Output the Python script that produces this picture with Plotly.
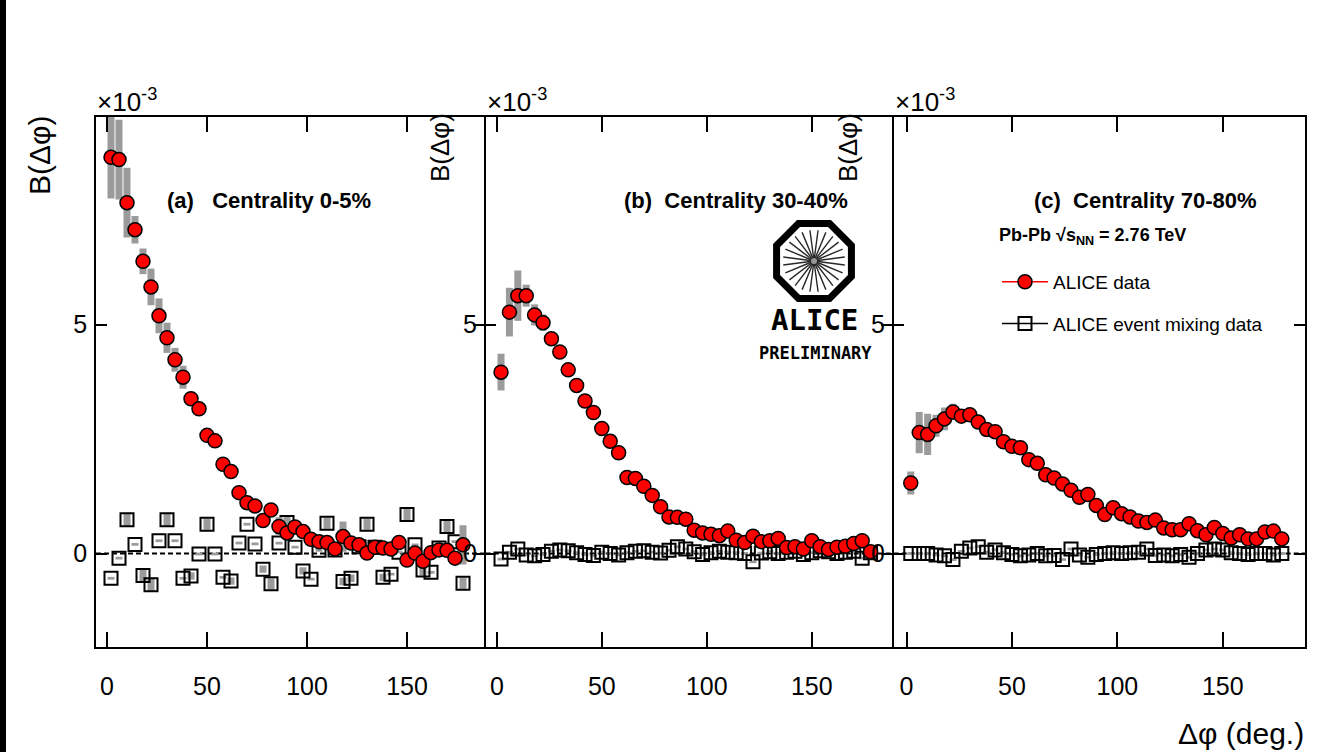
import math
import plotly.graph_objects as go

W, H = 1332, 752
FONT = "Liberation Sans, Arial, sans-serif"

# Δφ bin centres (deg.)
DPHI = [2, 6, 10, 14, 18, 22, 26, 30, 34, 38, 42, 46, 50, 54, 58, 62, 66, 70, 74, 78,
        82, 86, 90, 94, 98, 102, 106, 110, 114, 118, 122, 126, 130, 134, 138, 142, 146,
        150, 154, 158, 162, 166, 170, 174, 178]

# Balance function B(Δφ), units of 1e-3 — centrality 0-5%
data_a = [8.65, 8.60, 7.66, 7.07, 6.38, 5.82, 5.19, 4.71, 4.23, 3.85, 3.38, 3.16, 2.58,
          2.46, 1.95, 1.79, 1.33, 1.11, 1.04, 0.72, 0.95, 0.59, 0.45, 0.58, 0.48, 0.31,
          0.26, 0.24, 0.10, 0.37, 0.23, 0.19, 0.01, 0.14, 0.12, 0.10, 0.24, -0.14, 0.01,
          -0.17, 0.02, 0.08, 0.07, -0.10, 0.19]
syst_a = [0.90, 0.87, 0.76, 0.30, 0.28, 0.40, 0.38, 0.33, 0.26, 0.25, 0.15, 0.12, 0.12,
          0.10, 0.10, 0.10, 0.08, 0.08, 0.08, 0.08, 0.08, 0.20, 0.08, 0.08, 0.08, 0.08,
          0.08, 0.10, 0.10, 0.33, 0.10, 0.08, 0.08, 0.08, 0.08, 0.08, 0.08, 0.08, 0.08,
          0.10, 0.10, 0.08, 0.08, 0.10, 0.43]
mix_a = [-0.54, -0.10, 0.74, 0.20, -0.48, -0.68, 0.28, 0.74, 0.28, -0.54, -0.49, -0.01,
         0.64, -0.01, -0.52, -0.60, 0.23, 0.64, 0.21, -0.34, -0.66, 0.23, 0.68, 0.14,
         -0.38, -0.56, 0.07, 0.66, 0.08, -0.61, -0.54, 0.15, 0.64, 0.14, -0.52, -0.45,
         0.03, 0.85, 0.19, -0.36, -0.41, 0.12, 0.59, 0.26, -0.65]
mix_syst_a = [0.03, 0.03, 0.15, 0.03, 0.12, 0.15, 0.03, 0.15, 0.03, 0.03, 0.08, 0.03,
              0.12, 0.03, 0.03, 0.08, 0.03, 0.03, 0.03, 0.08, 0.12, 0.03, 0.12, 0.03,
              0.08, 0.03, 0.03, 0.12, 0.03, 0.08, 0.08, 0.03, 0.12, 0.03, 0.08, 0.03,
              0.03, 0.15, 0.03, 0.12, 0.03, 0.03, 0.12, 0.03, 0.12]

# Centrality 30-40%
data_b = [3.96, 5.27, 5.63, 5.63, 5.21, 5.04, 4.69, 4.40, 4.01, 3.67, 3.33, 3.08, 2.73,
          2.45, 2.20, 1.66, 1.64, 1.47, 1.27, 1.02, 0.80, 0.79, 0.75, 0.51, 0.45, 0.42,
          0.39, 0.49, 0.29, 0.24, 0.38, 0.26, 0.28, 0.33, 0.13, 0.15, 0.10, 0.28, 0.15,
          0.09, 0.14, 0.16, 0.22, 0.28, 0.04]
syst_b = [0.40, 0.53, 0.55, 0.24, 0.23, 0.18, 0.15, 0.12, 0.10, 0.08, 0.06, 0.06, 0.06,
          0.06, 0.06, 0.06, 0.06, 0.06, 0.06, 0.05, 0.05, 0.05, 0.05, 0.05, 0.05, 0.05,
          0.05, 0.05, 0.05, 0.05, 0.05, 0.05, 0.05, 0.05, 0.05, 0.05, 0.05, 0.05, 0.05,
          0.05, 0.05, 0.05, 0.05, 0.05, 0.05]
mix_b = [-0.12, 0.03, 0.10, -0.03, -0.05, -0.02, 0.05, 0.08, 0.06, 0.02, -0.02, -0.04,
         0.03, 0.00, -0.03, 0.02, 0.05, 0.06, 0.03, 0.01, 0.07, 0.15, 0.10, 0.04, -0.02,
         0.02, 0.05, 0.03, 0.02, 0.00, -0.18, 0.01, 0.04, 0.00, 0.03, 0.05, -0.02, 0.02,
         0.06, 0.04, 0.00, 0.03, 0.05, -0.10, 0.02]

# Centrality 70-80%
data_c = [1.54, 2.64, 2.60, 2.79, 2.94, 3.09, 3.00, 3.03, 2.87, 2.71, 2.66, 2.44, 2.34,
          2.31, 2.05, 1.97, 1.72, 1.65, 1.52, 1.38, 1.23, 1.29, 1.05, 0.85, 1.00, 0.87,
          0.80, 0.71, 0.68, 0.73, 0.56, 0.52, 0.52, 0.65, 0.50, 0.41, 0.57, 0.44, 0.34,
          0.41, 0.32, 0.32, 0.47, 0.49, 0.32]
syst_c = [0.25, 0.45, 0.45, 0.24, 0.25, 0.18, 0.15, 0.15, 0.08, 0.06, 0.05, 0.05, 0.05,
          0.05, 0.05, 0.05, 0.05, 0.05, 0.05, 0.05, 0.05, 0.05, 0.05, 0.05, 0.05, 0.05,
          0.05, 0.05, 0.05, 0.05, 0.05, 0.05, 0.05, 0.05, 0.05, 0.05, 0.05, 0.05, 0.05,
          0.05, 0.05, 0.05, 0.05, 0.05, 0.05]
mix_c = [0.00, 0.00, 0.00, -0.03, -0.05, -0.13, 0.05, 0.12, 0.15, 0.03, 0.08, 0.02,
         -0.02, -0.05, -0.03, 0.00, -0.05, -0.04, -0.13, 0.10, -0.03, -0.08, -0.02, 0.00,
         0.02, 0.00, 0.02, 0.03, 0.10, -0.04, -0.03, -0.05, -0.02, -0.08, 0.00, 0.08,
         0.10, 0.08, 0.02, 0.00, -0.02, 0.00, 0.00, -0.03, 0.00]
mix_syst_bc = [0.03] * len(DPHI)

PANEL_LABELS = ["(a)\u00a0\u00a0\u00a0Centrality 0-5%",
                "(b)\u00a0\u00a0Centrality 30-40%",
                "(c)\u00a0\u00a0Centrality 70-80%"]
X_TICKS = [0, 50, 100, 150]
Y_TICKS = [0, 5]

GRAY = "rgb(155,155,155)"
RED = "rgb(255,0,0)"
LW = 1.5


def px(x):
    return x / W


def py(y):
    return 1 - y / H


# neighbouring frames share one border line
panels = [
    dict(data=data_a, syst=syst_a, mix=mix_a, mix_syst=mix_syst_a,
         dom=(96, 484.2), xr=(-5.5, 188.6)),
    dict(data=data_b, syst=syst_b, mix=mix_b, mix_syst=mix_syst_bc,
         dom=(485.7, 892.2), xr=(-5.3, 188.3)),
    dict(data=data_c, syst=syst_c, mix=mix_c, mix_syst=mix_syst_bc,
         dom=(893.7, 1305), xr=(-6.1, 189.0)),
]

fig = go.Figure()
layout = dict(
    width=W, height=H, margin=dict(l=0, r=0, t=0, b=0),
    paper_bgcolor="white", plot_bgcolor="white",
    font=dict(family=FONT, color="black"),
    showlegend=True,
)
shapes, annotations = [], []
Y_RANGE = [-2.04, 9.53]
ydom = [py(647), py(117)]

for i, p in enumerate(panels):
    n = "" if i == 0 else str(i + 1)
    xa, ya = "x" + n, "y" + n
    # event-mixing points (open squares) with systematic boxes
    fig.add_trace(go.Scatter(
        x=DPHI, y=p["mix"], xaxis=xa, yaxis=ya, mode="markers", showlegend=False,
        marker=dict(symbol="square-open", size=13, color="black", line=dict(width=2)),
        error_y=dict(type="data", array=p["mix_syst"], color=GRAY, thickness=7, width=0),
        cliponaxis=True,
    ))
    # measured balance function (red circles) with systematic boxes
    fig.add_trace(go.Scatter(
        x=DPHI, y=p["data"], xaxis=xa, yaxis=ya, mode="markers", showlegend=False,
        marker=dict(symbol="circle", size=14, color=RED,
                    line=dict(color="black", width=1.5)),
        error_y=dict(type="data", array=p["syst"], color=GRAY, thickness=7, width=0),
        cliponaxis=True,
    ))
    axis_common = dict(showline=True, linewidth=LW, linecolor="black", mirror="ticks",
                       ticks="inside", tickcolor="black", tickwidth=2,
                       showgrid=False, zeroline=False)
    layout["xaxis" + n] = dict(
        domain=[px(p["dom"][0]), px(p["dom"][1])], range=list(p["xr"]),
        anchor=ya, tickvals=X_TICKS, ticklen=15, ticklabelstandoff=16,
        tickfont=dict(size=25, family=FONT), **axis_common)
    layout["yaxis" + n] = dict(
        domain=ydom, range=Y_RANGE, anchor=xa, tickvals=Y_TICKS, ticklen=11,
        ticklabelstandoff=2, tickfont=dict(size=25, family=FONT), **axis_common)
    # dashed zero reference
    shapes.append(dict(type="line", xref=xa + " domain", yref=ya, x0=0, x1=1, y0=0, y1=0,
                       line=dict(color="black", width=2, dash="5px,3px"), layer="below"))
    # ×10^-3 multiplier above the frame
    annotations.append(dict(x=px(p["dom"][0] - 1), y=py(119), xref="paper", yref="paper",
                            xanchor="left", yanchor="bottom", showarrow=False,
                            text="×10<sup>-3</sup>", font=dict(size=26, family=FONT)))

# y-axis titles
for (cx, cy, fs) in [(40, 156, 30), (440, 148, 26), (848, 148, 26)]:
    annotations.append(dict(x=px(cx), y=py(cy), xref="paper", yref="paper",
                            xanchor="center", yanchor="middle", showarrow=False,
                            textangle=-90, text="B(Δφ)", font=dict(size=fs, family=FONT)))

# panel labels
for (lx, txt) in zip([165, 622, 1032], PANEL_LABELS):
    annotations.append(dict(x=px(lx), y=py(200), xref="paper", yref="paper",
                            xanchor="left", yanchor="middle", showarrow=False,
                            text="<b>" + txt + "</b>", font=dict(size=22, family=FONT)))

annotations.append(dict(x=px(997), y=py(237), xref="paper", yref="paper",
                        xanchor="left", yanchor="middle", showarrow=False,
                        text="<b>Pb-Pb √s<sub>NN</sub> = 2.76 TeV</b>",
                        font=dict(size=18, family=FONT)))

# x-axis title
annotations.append(dict(x=px(1306), y=py(751.5), xref="paper", yref="paper",
                        xanchor="right", yanchor="bottom", showarrow=False,
                        text="Δφ (deg.)", font=dict(size=30, family=FONT)))

# legend entries
fig.add_trace(go.Scatter(
    x=[None], y=[None], xaxis="x3", yaxis="y3", mode="lines+markers",
    name="ALICE data", legendgroup="g1",
    line=dict(color=RED, width=1.5),
    marker=dict(symbol="circle", size=14, color=RED, line=dict(color="black", width=1.5)),
))
fig.add_trace(go.Scatter(
    x=[None], y=[None], xaxis="x3", yaxis="y3", mode="lines+markers",
    name="ALICE event mixing data", legendgroup="g2",
    line=dict(color="black", width=1.5),
    marker=dict(symbol="square-open", size=13, color="black", line=dict(width=2)),
))
layout["legend"] = dict(x=px(997), y=py(263), xanchor="left", yanchor="top",
                        bgcolor="rgba(0,0,0,0)", font=dict(size=19, family=FONT),
                        traceorder="grouped", tracegroupgap=14, itemwidth=46)

# ALICE Preliminary logo
cx, cy = 814, 261
r_oct = 40.5
pts = []
for k in range(8):
    a = math.radians(22.5 + 45 * k)
    pts.append((cx + r_oct * math.cos(a), cy + r_oct * math.sin(a)))
path = "M " + " L ".join(f"{px(x):.5f},{py(y):.5f}" for x, y in pts) + " Z"
shapes.append(dict(type="path", path=path, xref="paper", yref="paper",
                   line=dict(color="black", width=7), fillcolor="white"))
for k in range(24):
    a = math.radians(7.5 + 15 * k)
    shapes.append(dict(type="line", xref="paper", yref="paper",
                       x0=px(cx), y0=py(cy),
                       x1=px(cx + 31 * math.cos(a)), y1=py(cy + 31 * math.sin(a)),
                       line=dict(color="rgb(40,40,40)", width=1.4)))
shapes.append(dict(type="circle", xref="paper", yref="paper",
                   x0=px(cx - 3), x1=px(cx + 3), y0=py(cy - 3), y1=py(cy + 3),
                   fillcolor="rgb(150,150,150)", line=dict(width=0)))
annotations.append(dict(x=px(cx), y=py(339), xref="paper", yref="paper",
                        xanchor="center", yanchor="bottom", showarrow=False,
                        text="<b>ALICE</b>", font=dict(size=29, family="DejaVu Sans Mono")))
annotations.append(dict(x=px(cx + 1), y=py(341), xref="paper", yref="paper",
                        xanchor="center", yanchor="top", showarrow=False,
                        text="<b>PRELIMINARY</b>",
                        font=dict(size=17, family="DejaVu Sans Mono")))

# dark strip along the left edge
shapes.append(dict(type="rect", xref="paper", yref="paper", x0=0, x1=px(6), y0=0, y1=1,
                   fillcolor="black", line=dict(width=0)))

layout["shapes"] = shapes
layout["annotations"] = annotations
fig.update_layout(**layout)
fig.write_html("out.html")
